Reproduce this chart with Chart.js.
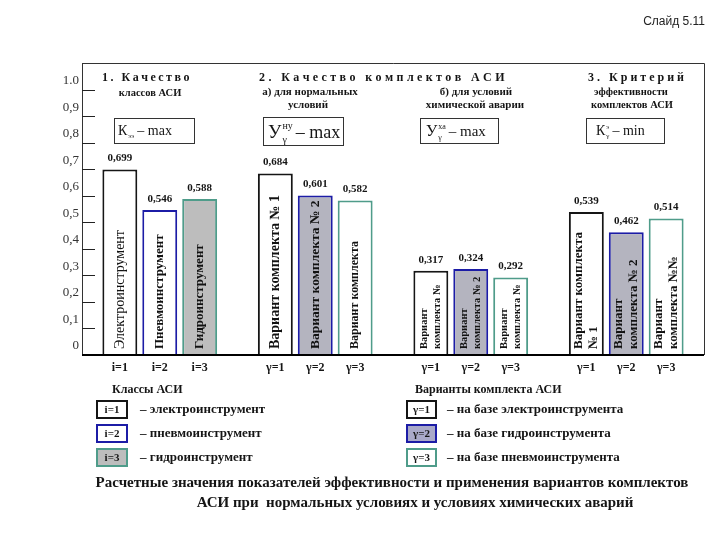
<!DOCTYPE html>
<html lang="ru">
<head>
<meta charset="utf-8">
<title>Слайд 5.11</title>
<script src="https://cdn.jsdelivr.net/npm/chart.js@4"></script>
<style>
  html, body { margin: 0; padding: 0; background: #fff; }
  #wrap { position: relative; width: 720px; height: 540px; }
</style>
</head>
<body>
<div id="wrap"><canvas id="grafik" width="720" height="540"></canvas></div>
<script>
// --- Данные ---
const gruppy = ['Качество классов АСИ', 'Нормальные условия', 'Химическая авария', 'Критерий эффективности'];
const seriya1 = [0.699, 0.684, 0.317, 0.539];
const seriya2 = [0.546, 0.601, 0.324, 0.462];
const seriya3 = [0.588, 0.582, 0.292, 0.514];

const metkiY = ['0', '0,1', '0,2', '0,3', '0,4', '0,5', '0,6', '0,7', '0,8', '0,9', '1.0'];

const podpisiX = [
  ['i=1', 'i=2', 'i=3'],
  ['γ=1', 'γ=2', 'γ=3'],
  ['γ=1', 'γ=2', 'γ=3'],
  ['γ=1', 'γ=2', 'γ=3']
];

// тексты внутри столбцов: [группа][серия] -> строки
const tekstyStolbcov = [
  [['Электроинструмент'], ['Пневмоинструмент'], ['Гидроинструмент']],
  [['Вариант комплекта № 1'], ['Вариант комплекта № 2'], ['Вариант комплекта']],
  [['Вариант', 'комплекта №'], ['Вариант', 'комплекта № 2'], ['Вариант', 'комплекта №']],
  [['Вариант комплекта', '№ 1'], ['Вариант', 'комплекта № 2'], ['Вариант', 'комплекта №№']]
];

const klassyASI = [['i=1', '– электроинструмент'], ['i=2', '– пневмоинструмент'], ['i=3', '– гидроинструмент']];
const variantyASI = [['γ=1', '– на базе электроинструмента'], ['γ=2', '– на базе гидроинструмента'], ['γ=3', '– на базе пневмоинструмента']];
const podpis = [
  'Расчетные значения показателей эффективности и применения вариантов комплектов',
  'АСИ при  нормальных условиях и условиях химических аварий'
];

// --- Стили ---
const SERIF = '"Liberation Serif", "DejaVu Serif", serif';
const CHERNYI = '#151515';
const SINII = '#1c1ca6';
const ZELENYI = '#4f9c8a';
const SERYI = '#bdbdbd';
const SERYI_SINII = '#b4b4bf';

// шрифты текста в столбцах по группам
const shriftyGrupp = [
  { f: ['14px', 'bold 13px', 'bold 13px'], lh: 14 },
  { f: ['bold 14px', 'bold 13.5px', 'bold 12px'], lh: 14 },
  { f: ['bold 10.5px', 'bold 10.5px', 'bold 10.5px'], lh: 13 },
  { f: ['bold 13px', 'bold 13px', 'bold 13px'], lh: 15 }
];

function tekst(ctx, s, x, y, font, align = 'left', cvet = CHERNYI) {
  ctx.font = font + ' ' + SERIF;
  ctx.textAlign = align;
  ctx.textBaseline = 'middle';
  ctx.fillStyle = cvet;
  ctx.fillText(s, x, y);
}

// разрядка букв
function tekstRazryad(ctx, s, x, y, font, shag) {
  ctx.font = font + ' ' + SERIF;
  ctx.textAlign = 'left';
  ctx.textBaseline = 'middle';
  ctx.fillStyle = CHERNYI;
  let tx = x;
  for (const ch of s) {
    ctx.fillText(ch, tx, y);
    tx += ctx.measureText(ch).width + shag;
  }
}

function ramka(ctx, x, y, w, h, fon, obvod, tolsh) {
  ctx.fillStyle = fon;
  ctx.fillRect(x, y, w, h);
  ctx.strokeStyle = obvod;
  ctx.lineWidth = tolsh;
  ctx.strokeRect(x, y, w, h);
}

// формула вида  Б^верх_низ – хвост
function formula(ctx, x, y, bukva, razmer, verh, niz, hvost, razmerHvosta) {
  ctx.font = razmer + 'px ' + SERIF;
  ctx.textAlign = 'left';
  ctx.textBaseline = 'alphabetic';
  ctx.fillStyle = CHERNYI;
  ctx.fillText(bukva, x, y);
  let w = ctx.measureText(bukva).width;
  const mal = Math.round(razmer * 0.5);
  ctx.font = mal + 'px ' + SERIF;
  let w2 = 0;
  if (verh) {
    ctx.fillText(verh, x + w + 1, y - razmer * 0.45);
    w2 = ctx.measureText(verh).width;
  }
  if (niz) {
    ctx.fillText(niz, x + w + 1, y + mal * 0.45);
    w2 = Math.max(w2, ctx.measureText(niz).width);
  }
  ctx.font = razmerHvosta + 'px ' + SERIF;
  ctx.fillText(hvost, x + w + w2 + 4, y);
}

const risovanie = {
  id: 'risovanie',
  afterDatasetsDraw(chart) {
    const ctx = chart.ctx;
    const ca = chart.chartArea;
    const yS = chart.scales.y;
    ctx.save();

    // рамка и ось
    ctx.strokeStyle = '#333';
    ctx.lineWidth = 1;
    ctx.beginPath();
    ctx.moveTo(ca.left, ca.top + 0.5);
    ctx.lineTo(ca.right + 0.5, ca.top + 0.5);
    ctx.lineTo(ca.right + 0.5, ca.bottom);
    ctx.moveTo(ca.left + 0.5, ca.top);
    ctx.lineTo(ca.left + 0.5, ca.bottom);
    ctx.stroke();
    ctx.strokeStyle = '#000';
    ctx.lineWidth = 2;
    ctx.beginPath();
    ctx.moveTo(ca.left, ca.bottom);
    ctx.lineTo(ca.right, ca.bottom);
    ctx.stroke();

    // внутренние засечки
    ctx.strokeStyle = '#222';
    ctx.lineWidth = 1;
    for (let i = 1; i < metkiY.length; i++) {
      const py = Math.round(yS.getPixelForValue(i / 10)) + 0.5;
      ctx.beginPath();
      ctx.moveTo(ca.left, py);
      ctx.lineTo(ca.left + 13, py);
      ctx.stroke();
    }

    // столбцы: значения, тексты, подписи
    chart.data.datasets.forEach((ds, di) => {
      const meta = chart.getDatasetMeta(di);
      meta.data.forEach((bar, gi) => {
        const znach = ds.data[gi].toFixed(3).replace('.', ',');
        tekst(ctx, znach, bar.x, bar.y - 11, 'bold 11px', 'center');
        tekst(ctx, podpisiX[gi][di], bar.x, ca.bottom + 13, 'bold 12px', 'center');

        const stroki = tekstyStolbcov[gi][di];
        const st = shriftyGrupp[gi];
        ctx.save();
        ctx.translate(bar.x, bar.base - 6);
        ctx.rotate(-Math.PI / 2);
        stroki.forEach((s, k) => {
          tekst(ctx, s, 0, (k - (stroki.length - 1) / 2) * st.lh, st.f[di], 'left', '#111');
        });
        ctx.restore();
      });
    });

    // заголовки
    tekstRazryad(ctx, '1. Качество', 102, 78, 'bold 12px', 2.5);
    tekst(ctx, 'классов АСИ', 150, 93, 'bold 10.5px', 'center');
    tekstRazryad(ctx, '2. Качество комплектов АСИ', 259, 78, 'bold 12px', 3.4);
    tekst(ctx, 'а) для нормальных', 310, 92, 'bold 11px', 'center');
    tekst(ctx, 'условий', 308, 105, 'bold 11px', 'center');
    tekst(ctx, 'б) для условий', 476, 92, 'bold 11px', 'center');
    tekst(ctx, 'химической аварии', 475, 105, 'bold 11px', 'center');
    tekstRazryad(ctx, '3. Критерий', 588, 78, 'bold 12px', 3);
    tekst(ctx, 'эффективности', 631, 92, 'bold 10.5px', 'center');
    tekst(ctx, 'комплектов АСИ', 632, 105, 'bold 10.5px', 'center');

    // формулы в рамках
    ramka(ctx, 114.5, 118.5, 80, 25, '#fff', '#333', 1);
    formula(ctx, 118, 135, 'К', 14, '', 'ээ', '– max', 14);
    ramka(ctx, 263.5, 117.5, 80, 28, '#fff', '#333', 1);
    formula(ctx, 268, 138, 'У', 19, 'ну', 'γ', '– max', 18);
    ramka(ctx, 420.5, 118.5, 78, 25, '#fff', '#333', 1);
    formula(ctx, 426, 136, 'У', 16, 'ха', 'γ', '– max', 15);
    ramka(ctx, 586.5, 118.5, 78, 25, '#fff', '#333', 1);
    formula(ctx, 596, 135, 'К', 14, 'э', 'γ', '– min', 14);

    // легенда
    tekst(ctx, 'Классы АСИ', 112, 390, 'bold 12px');
    tekst(ctx, 'Варианты комплекта АСИ', 415, 390, 'bold 12px');
    const stiliKlassov = [['#fff', CHERNYI], ['#fff', SINII], [SERYI, ZELENYI]];
    const stiliVariantov = [['#fff', CHERNYI], ['#a9a9c9', SINII], ['#fff', ZELENYI]];
    const yLeg = [401, 425, 449];
    klassyASI.forEach((k, i) => {
      ramka(ctx, 97, yLeg[i], 30, 17, stiliKlassov[i][0], stiliKlassov[i][1], 2);
      tekst(ctx, k[0], 112, yLeg[i] + 9, 'bold 11px', 'center');
      tekst(ctx, k[1], 140, yLeg[i] + 9, 'bold 13px');
    });
    variantyASI.forEach((v, i) => {
      ramka(ctx, 407, yLeg[i], 29, 17, stiliVariantov[i][0], stiliVariantov[i][1], 2);
      tekst(ctx, v[0], 421.5, yLeg[i] + 9, 'bold 11px', 'center');
      tekst(ctx, v[1], 447, yLeg[i] + 9, 'bold 13px');
    });

    // подпись
    tekst(ctx, podpis[0], 392, 483, 'bold 15px', 'center');
    tekst(ctx, podpis[1], 415, 503, 'bold 15px', 'center');

    ctx.font = '12px "Liberation Sans", Arial, sans-serif';
    ctx.textAlign = 'right';
    ctx.textBaseline = 'middle';
    ctx.fillStyle = '#222';
    ctx.fillText('Слайд 5.11', 705, 22);

    ctx.restore();
  }
};

new Chart(document.getElementById('grafik'), {
  type: 'bar',
  data: {
    labels: gruppy,
    datasets: [
      { data: seriya1, backgroundColor: '#fff', borderColor: CHERNYI, borderWidth: 2 },
      { data: seriya2, backgroundColor: ['#fff', SERYI_SINII, SERYI_SINII, SERYI_SINII], borderColor: SINII, borderWidth: 2 },
      { data: seriya3, backgroundColor: [SERYI, '#fff', '#fff', '#fff'], borderColor: ZELENYI, borderWidth: 2 }
    ]
  },
  options: {
    responsive: false,
    animation: false,
    layout: { padding: { top: 63, right: 16, bottom: 185, left: 0 } },
    categoryPercentage: 0.77,
    barPercentage: 0.875,
    plugins: { legend: { display: false }, tooltip: { enabled: false } },
    scales: {
      x: { display: false },
      y: {
        min: 0,
        max: 1.1,
        afterFit: (s) => { s.width = 82; },
        border: { display: false },
        grid: { display: false, drawTicks: false },
        ticks: {
          stepSize: 0.1,
          padding: 3,
          labelOffset: -9,
          color: '#333',
          font: { family: SERIF, size: 13 },
          callback: (v) => metkiY[Math.round(v * 10)] ?? ''
        }
      }
    }
  },
  plugins: [risovanie]
});
</script>
</body>
</html>
